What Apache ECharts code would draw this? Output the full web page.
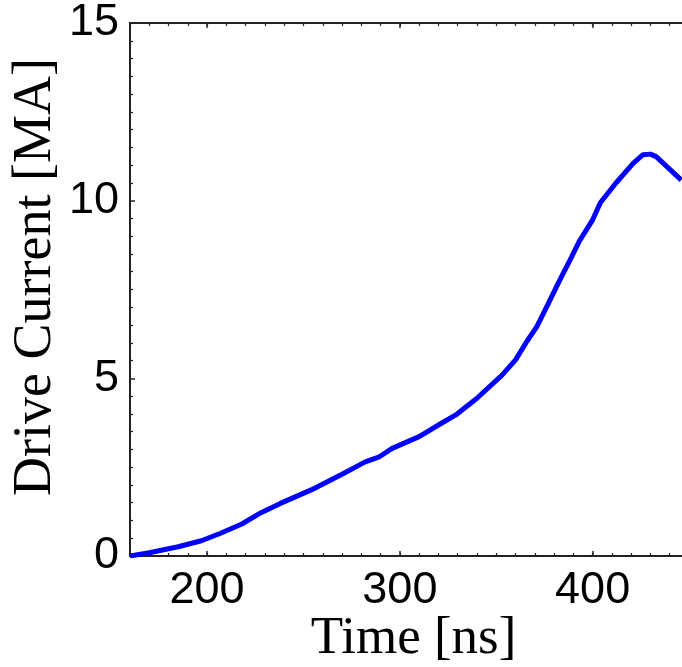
<!DOCTYPE html>
<html>
<head>
<meta charset="utf-8">
<script src="https://cdn.jsdelivr.net/npm/echarts@6/dist/echarts.min.js"></script>
<style>html,body{margin:0;padding:0;background:#fff;}#c{width:682px;height:667px;}</style>
</head>
<body>
<div id="c"></div>
<script>
// Data
const timeNs = [160, 170, 185, 197, 207, 218, 228, 238, 254, 270, 282, 289, 296, 310, 322, 329, 340, 353, 360, 366, 371, 377, 383, 388, 393, 400, 404, 412, 421, 426, 430, 433, 446];
const currentMA = [0, 0.09, 0.26, 0.43, 0.64, 0.90, 1.22, 1.48, 1.86, 2.30, 2.65, 2.78, 3.03, 3.36, 3.75, 3.97, 4.44, 5.09, 5.52, 6.05, 6.45, 7.10, 7.77, 8.30, 8.85, 9.46, 9.94, 10.49, 11.05, 11.29, 11.31, 11.24, 10.58];
const xTickLabels = [200, 300, 400];
const yTickLabels = [0, 5, 10, 15];
const xTitle = 'Time [ns]';
const yTitle = 'Drive Current [MA]';

const chart = echarts.init(document.getElementById('c'));
const axisColor = '#222';
const xMin = 160, xMax = 450;
function xAx(pos, major, withLabels, withLine, name) {
  return {
    type: 'value', position: pos, min: xMin, max: xMax, interval: 10,
    axisLine: {show: withLine, onZero: false, lineStyle: {color: axisColor, width: 2}},
    axisTick: major ? {inside: true, length: 5, customValues: xTickLabels, lineStyle: {color: axisColor, width: 1.5}}
                    : {inside: true, length: 3, lineStyle: {color: axisColor, width: 1.2}},
    axisLabel: withLabels ? {customValues: xTickLabels, fontFamily: 'Liberation Sans', fontSize: 45, color: '#000', margin: 12} : {show: false},
    splitLine: {show: false},
    name: name || '', nameLocation: 'middle', nameGap: 57,
    nameTextStyle: {fontFamily: 'Liberation Serif', fontSize: 53, color: '#000', padding: [0, 0, 0, 8]}
  };
}
chart.setOption({
  animation: false,
  backgroundColor: '#fff',
  grid: {left: 130, right: -7, top: 23, bottom: 111, containLabel: false, outerBoundsMode: 'none'},
  xAxis: [
    xAx('bottom', false, false, true, xTitle),
    xAx('bottom', true, true, false),
    xAx('top', false, false, true),
    xAx('top', true, false, false)
  ],
  yAxis: {
    type: 'value', min: 0, max: 15, interval: 5,
    axisLine: {show: true, lineStyle: {color: axisColor, width: 2}},
    axisTick: {inside: true, length: 5, lineStyle: {color: axisColor, width: 1.5}},
    minorTick: {show: true, splitNumber: 10, length: 3, lineStyle: {color: axisColor, width: 1.2}},
    axisLabel: {customValues: yTickLabels, fontFamily: 'Liberation Sans', fontSize: 45, color: '#000', margin: 11},
    splitLine: {show: false}
  },
  graphic: [{
    type: 'text', x: 36, y: 277, rotation: Math.PI / 2,
    style: {text: yTitle, fontFamily: 'Liberation Serif', fontSize: 54, fill: '#000', textAlign: 'center', textVerticalAlign: 'middle'}
  }],
  series: [{
    type: 'line', xAxisIndex: 0,
    data: timeNs.map((t, i) => [t, currentMA[i]]),
    showSymbol: false, smooth: false,
    lineStyle: {color: '#0000ff', width: 5}
  }]
});
</script>
</body>
</html>
